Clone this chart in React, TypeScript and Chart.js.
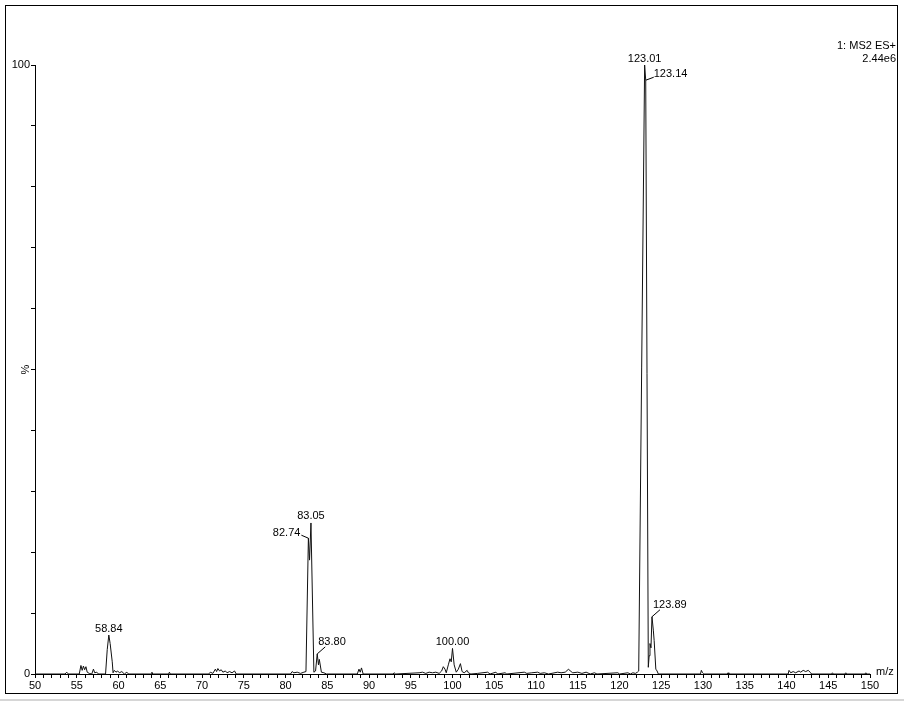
import React, { useEffect, useRef } from "react";
import { Chart, registerables } from "chart.js";

Chart.register(...registerables);

// ---- Data ----
const MZ: number[] = [
  50.0, 53.6, 53.8, 54.0,
  55.3, 55.5, 55.65, 55.8, 55.95, 56.1, 56.25, 56.5, 56.8, 57.0, 57.15, 57.4, 57.6,
  58.45, 58.65, 58.84, 59.0, 59.25, 59.35, 59.5, 59.7, 59.9, 60.1, 60.4, 60.7, 61.0, 61.2,
  63.9, 64.0, 64.1, 66.0, 66.1, 66.2,
  70.8, 71.0, 71.3, 71.6, 71.75, 71.9, 72.1, 72.3, 72.5, 72.8, 73.0, 73.3, 73.6, 73.9, 74.1,
  80.6, 80.8, 81.0, 81.4, 81.8, 82.2, 82.45,
  82.74, 82.88, 83.05, 83.4, 83.6, 83.8, 83.95, 84.05, 84.3, 84.6, 84.9,
  88.6, 88.8, 88.95, 89.1, 89.3,
  92.9, 93.0, 93.2,
  96.0, 96.4, 96.8, 97.2, 97.6, 98.0, 98.4,
  98.7, 98.9, 99.1, 99.25, 99.5, 99.7, 99.85, 100.0, 100.2, 100.45, 100.7, 100.95, 101.15, 101.4, 101.75, 101.9, 102.2,
  103.0, 104.2, 104.5, 105.2, 105.4, 106.3, 106.5, 108.6, 108.9, 109.5, 110.2, 110.5, 111.0, 111.5,
  112.6, 113.0, 113.5, 113.9, 114.1, 114.4, 115.0, 115.5, 116.0, 116.5, 117.0, 117.3,
  119.8, 120.0, 121.0, 121.3, 121.6, 121.9, 122.15,
  122.3, 123.01, 123.14, 123.45, 123.55, 123.65, 123.77, 123.89, 124.05, 124.15, 124.35, 124.5, 124.65,
  129.7, 129.8, 129.95, 130.1,
  132.9, 133.0, 133.1,
  140.2, 140.3, 140.5, 140.8, 141.1, 141.5, 141.7, 142.0, 142.3, 142.6, 142.9, 143.0,
  145.4, 145.5, 145.6, 147.0, 147.1, 147.2, 149.4, 149.5, 149.6, 150.0,
];

const INTENSITY: number[] = [
  0, 0, 0.3, 0,
  0, 1.4, 0.6, 1.3, 0.7, 1.2, 0.3, 0.1, 0, 0.8, 0.2, 0.3, 0,
  0, 4.0, 6.4, 5.0, 2.0, 0.2, 0.6, 0.3, 0.5, 0.2, 0.4, 0, 0.3, 0,
  0, 0.3, 0, 0, 0.3, 0,
  0, 0.3, 0.1, 0.8, 0.4, 0.9, 0.5, 0.7, 0.3, 0.5, 0.2, 0.4, 0.2, 0.5, 0,
  0, 0.4, 0.2, 0.3, 0.1, 0.3, 0.4,
  22.3, 18.7, 24.8, 0.3, 0.5, 3.3, 1.5, 2.4, 0.3, 0.2, 0,
  0, 0.8, 0.3, 1.0, 0,
  0, 0.2, 0,
  0.2, 0.3, 0.1, 0.3, 0.2, 0.3, 0.1,
  0.5, 1.2, 0.8, 0.2, 1.5, 2.5, 2.0, 4.2, 1.5, 0.3, 0.8, 1.7, 0.4, 0.2, 0.6, 0.2, 0,
  0.1, 0.3, 0, 0.3, 0, 0.2, 0, 0.3, 0.1, 0.2, 0.3, 0.1, 0.2, 0,
  0.3, 0.2, 0.3, 0.8, 0.5, 0.2, 0.3, 0.1, 0.3, 0, 0.2, 0,
  0.2, 0, 0.2, 0, 0.2, 0.1, 0.3,
  0.5, 100, 97.5, 1.1, 3.0, 5.0, 4.3, 9.4, 7.2, 5.5, 0.8, 0.5, 0,
  0, 0.6, 0.2, 0,
  0, 0.2, 0,
  0, 0.6, 0.2, 0.4, 0.2, 0.5, 0.3, 0.6, 0.4, 0.6, 0.2, 0,
  0, 0.2, 0, 0, 0.2, 0, 0, 0.2, 0, 0,
];

const PEAK_LABELS: string[] = ["58.84", "82.74", "83.05", "83.80", "100.00", "123.01", "123.14", "123.89"];
const PEAK_MZ: number[] = [58.84, 82.74, 83.05, 83.8, 100.0, 123.01, 123.14, 123.89];
const PEAK_INTENSITY: number[] = [6.4, 22.3, 24.8, 3.3, 4.2, 100, 97.5, 9.4];
const PEAK_PLACEMENT: string[] = ["above", "left", "above", "upright", "above", "above", "right", "upright"];

const X_MIN = 50;
const X_MAX = 150;
const X_STEP = 1;
const X_LABEL_EVERY = 5;
const Y_MIN = 0;
const Y_MAX = 100;
const Y_STEP = 10;
const Y_LABELED = [0, 100];
const Y_TITLE = "%";
const X_TITLE = "m/z";
const HEADER_LINES = ["1: MS2 ES+", "2.44e6"];

const FONT = '11px "Liberation Sans", Arial, sans-serif';

const decorPlugin = {
  id: "decor",
  afterDatasetsDraw(chart: any) {
    const { ctx, scales, width, height } = chart;
    const xs = scales.x;
    const ys = scales.y;
    ctx.save();
    // frame
    ctx.strokeStyle = "#000";
    ctx.lineWidth = 1;
    ctx.strokeRect(5.5, 5.5, 892, 688);
    // bottom band
    ctx.fillStyle = "#d6d6d6";
    ctx.fillRect(0, height - 2, width, 2);

    ctx.fillStyle = "#000";
    ctx.font = FONT;

    // header text
    ctx.textAlign = "right";
    ctx.textBaseline = "middle";
    HEADER_LINES.forEach((t, i) => ctx.fillText(t, 896, 46 + i * 13));

    // y title (rotated)
    ctx.save();
    ctx.translate(26, ys.getPixelForValue((Y_MIN + Y_MAX) / 2));
    ctx.rotate(-Math.PI / 2);
    ctx.textAlign = "center";
    ctx.textBaseline = "middle";
    ctx.fillText(Y_TITLE, 0, 0);
    ctx.restore();

    // x title
    ctx.textAlign = "left";
    ctx.textBaseline = "middle";
    ctx.fillText(X_TITLE, xs.right + 6, ys.bottom - 2);

    // peak labels
    PEAK_LABELS.forEach((label, i) => {
      const px = xs.getPixelForValue(PEAK_MZ[i]);
      const py = ys.getPixelForValue(PEAK_INTENSITY[i]);
      const place = PEAK_PLACEMENT[i];
      ctx.strokeStyle = "#000";
      ctx.lineWidth = 1;
      if (place === "above") {
        ctx.textAlign = "center";
        ctx.textBaseline = "bottom";
        ctx.fillText(label, px, py - 1);
      } else if (place === "left") {
        ctx.beginPath();
        ctx.moveTo(px, py);
        ctx.lineTo(px - 7, py - 3);
        ctx.stroke();
        ctx.textAlign = "right";
        ctx.textBaseline = "middle";
        ctx.fillText(label, px - 8, py - 5);
      } else if (place === "right") {
        ctx.beginPath();
        ctx.moveTo(px, py);
        ctx.lineTo(px + 8, py - 3);
        ctx.stroke();
        ctx.textAlign = "left";
        ctx.textBaseline = "middle";
        ctx.fillText(label, px + 8, py - 6);
      } else if (place === "upright") {
        ctx.beginPath();
        ctx.moveTo(px, py);
        ctx.lineTo(px + 8, py - 7);
        ctx.stroke();
        ctx.textAlign = "left";
        ctx.textBaseline = "middle";
        ctx.fillText(label, px + 1, py - 12);
      }
    });
    ctx.restore();
  },
};

export default function App() {
  const ref = useRef<HTMLCanvasElement | null>(null);

  useEffect(() => {
    document.body.style.margin = "0";
    const canvas = ref.current;
    if (!canvas) return;
    const points = MZ.map((x, i) => ({ x, y: INTENSITY[i] }));
    const chart = new Chart(canvas, {
      type: "line",
      data: {
        datasets: [
          {
            data: points,
            borderColor: "#111",
            borderWidth: 1,
            pointRadius: 0,
            tension: 0,
            fill: false,
          },
        ],
      },
      options: {
        animation: false,
        responsive: false,
        devicePixelRatio: 1,
        parsing: false as any,
        layout: { padding: { top: 65, right: 34, left: 0, bottom: 0 } },
        plugins: { legend: { display: false }, tooltip: { enabled: false } },
        scales: {
          x: {
            type: "linear",
            min: X_MIN,
            max: X_MAX,
            afterFit: (s: any) => {
              s.height = 27;
            },
            border: { display: true, color: "#000", width: 1 },
            grid: { drawOnChartArea: false, drawTicks: true, tickLength: 4, color: "#000" },
            ticks: {
              stepSize: X_STEP,
              autoSkip: false,
              maxRotation: 0,
              minRotation: 0,
              padding: 1,
              color: "#000",
              font: { family: '"Liberation Sans", Arial, sans-serif', size: 11 },
              callback: (v: any) => (Number(v) % X_LABEL_EVERY === 0 ? String(v) : ""),
            },
          },
          y: {
            type: "linear",
            min: Y_MIN,
            max: Y_MAX,
            afterFit: (s: any) => {
              s.width = 35;
            },
            border: { display: true, color: "#000", width: 1 },
            grid: { drawOnChartArea: false, drawTicks: true, tickLength: 4, color: "#000" },
            ticks: {
              stepSize: Y_STEP,
              autoSkip: false,
              padding: 1,
              color: "#000",
              font: { family: '"Liberation Sans", Arial, sans-serif', size: 11 },
              callback: (v: any) => (Y_LABELED.includes(Number(v)) ? String(v) : ""),
            },
          },
        },
      },
      plugins: [decorPlugin],
    });
    return () => chart.destroy();
  }, []);

  return (
    <div style={{ width: 904, height: 701, background: "#fff" }}>
      <canvas ref={ref} width={904} height={701} style={{ display: "block" }} />
    </div>
  );
}
